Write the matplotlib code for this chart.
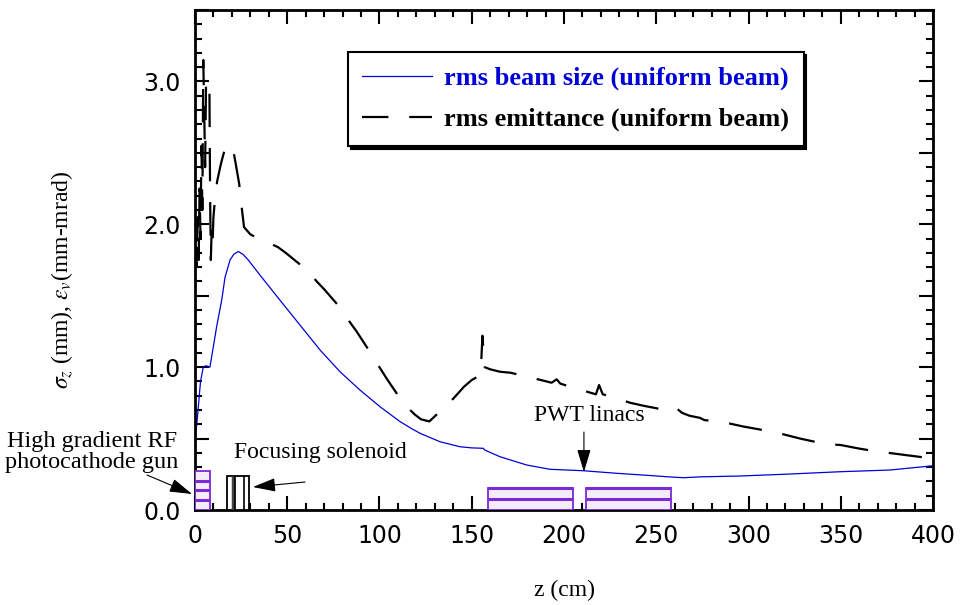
import numpy as np
import matplotlib
matplotlib.use("Agg")
import matplotlib.pyplot as plt
from matplotlib.ticker import MultipleLocator, FuncFormatter
from matplotlib.patches import Rectangle

# rms beam size (uniform beam)
z_size = [0, 1, 2, 3, 4.5, 6, 8.1, 9.9, 11.7, 14.5, 16.3, 19, 21, 23.5, 26, 28.9, 35.2,
          46, 56.9, 67.8, 78.6, 89.4, 100.3, 111, 117.4, 122, 132.8, 143.6, 150, 156.3,
          157, 165.3, 179.8, 192.4, 210.5, 228.6, 245, 255.7, 264.7, 273.7, 295.4, 322.5,
          349.6, 376.7, 394.7, 400]
beam_size = [0.52, 0.6, 0.75, 0.9, 1.0, 1.01, 1.0, 1.14, 1.28, 1.47, 1.63, 1.75, 1.79, 1.81,
             1.79, 1.75, 1.645, 1.47, 1.295, 1.12, 0.968, 0.84, 0.723, 0.62, 0.57, 0.537,
             0.478, 0.443, 0.435, 0.432, 0.42, 0.373, 0.315, 0.285, 0.275, 0.257, 0.243,
             0.233, 0.226, 0.232, 0.238, 0.252, 0.268, 0.28, 0.303, 0.31]

# rms emittance (uniform beam)
z_emit = [0.5, 1.0, 1.5, 2.0, 2.5, 3.0, 3.5, 4.0, 4.5, 5.0, 5.5, 6.0, 7.0, 7.8, 8.2, 8.6,
          9.0, 9.5, 10, 11, 12, 13, 14, 15, 16.5, 18, 19.5, 21, 22, 24, 25.3, 26.6, 30,
          34.3, 40, 45, 49.2, 57.3, 62, 66, 69.9, 77.1, 82, 87.6, 93.9, 99, 103.9, 110.7,
          115, 119, 122.5, 127, 133.2, 140, 145.8, 150, 154.8, 155.8, 157, 160, 165.3, 171,
          178, 184.2, 189, 193.3, 196, 198, 206, 212, 217.3, 219, 221, 225.8, 230, 235.8,
          243, 250.2, 254, 258, 261, 264, 268, 273.7, 276, 282, 287.8, 297, 307.7, 313,
          318.9, 328, 338.4, 344, 350, 360, 370.4, 376, 382, 388, 394.7, 400]
emittance = [1.85, 1.70, 2.05, 1.75, 2.25, 1.90, 2.55, 2.10, 3.15, 2.80, 2.40, 3.0, 3.0,
             3.0, 2.2, 1.75, 1.95, 1.85, 2.05, 2.2, 2.3, 2.36, 2.42, 2.47, 2.54, 2.56, 2.55,
             2.50, 2.43, 2.28, 2.12, 1.98, 1.93, 1.90, 1.87, 1.84, 1.80, 1.715, 1.66, 1.60,
             1.547, 1.44, 1.35, 1.25, 1.125, 1.02, 0.92, 0.79, 0.72, 0.67, 0.635, 0.62,
             0.695, 0.78, 0.863, 0.91, 0.945, 1.22, 1.0, 0.985, 0.968, 0.961, 0.94, 0.92,
             0.905, 0.891, 0.915, 0.885, 0.852, 0.83, 0.81, 0.875, 0.81, 0.793, 0.775,
             0.751, 0.73, 0.712, 0.70, 0.69, 0.712, 0.68, 0.66, 0.645, 0.63, 0.62, 0.611,
             0.585, 0.56, 0.545, 0.53, 0.50, 0.471, 0.46, 0.455, 0.43, 0.408, 0.40, 0.39,
             0.38, 0.369, 0.36]

# beamline elements: (start z, end z, drawn height)
gun = (0, 8, 0.275)
solenoid = (17.2, 29.5, 0.24)
linacs = [(159, 205, 0.152), (212, 258, 0.152)]

plt.rcParams['font.family'] = ['Liberation Serif', 'DejaVu Serif']
plt.rcParams['mathtext.fontset'] = 'stix'
plt.rcParams['lines.scale_dashes'] = False

fig = plt.figure(figsize=(9.6, 6.05), dpi=100)
ax = fig.add_axes([0.2031, 0.157, 0.7688, 0.8264])

blue = '#0000d8'
purple = '#7a2ad6'
l1, = ax.plot(z_size, beam_size, color=blue, lw=0.9, label='rms beam size (uniform beam)')
l2, = ax.plot(z_emit, emittance, color='black', lw=1.6, linestyle=(5, (24, 15)),
              label='rms emittance (uniform beam)')

# gun: striped purple box
g0, g1, gh = gun
ax.add_patch(Rectangle((g0, 0), g1 - g0, gh, fc='#f3ecfb', ec=purple, lw=1.3, zorder=3))
for k in range(1, 4):
    ax.hlines(gh * k / 4, g0, g1, color=purple, lw=2.2, zorder=4)

# solenoid: black box with vertical lines
s0, s1, sh = solenoid
ax.add_patch(Rectangle((s0, 0), s1 - s0, sh, fc='white', ec='black', lw=1.3, zorder=3))
for f, w, c in [(0.27, 2.5, '#444444'), (0.38, 1.2, 'black'), (0.78, 1.2, 'black')]:
    ax.vlines(s0 + f * (s1 - s0), 0, sh, color=c, lw=w, zorder=4)

# PWT linacs
for a, b, h in linacs:
    ax.add_patch(Rectangle((a, 0), b - a, h, fc='#f3ecfb', ec=purple, lw=1.3, zorder=3))
    ax.hlines([h / 2, h], a, b, color=purple, lw=2.2, zorder=4)

ax.set_xlim(0, 400)
ax.set_ylim(0, 3.5)
ax.xaxis.set_major_locator(MultipleLocator(50))
ax.xaxis.set_minor_locator(MultipleLocator(10))
ax.yaxis.set_major_locator(MultipleLocator(0.5))
ax.yaxis.set_minor_locator(MultipleLocator(0.1))
ax.yaxis.set_major_formatter(FuncFormatter(lambda v, p: f"{v:.1f}" if abs(v - round(v)) < 1e-6 else ""))
ax.tick_params(which='both', direction='in', top=True, right=True, width=1.5,
               labelsize=17, pad=10)
ax.tick_params(which='major', length=10)
ax.tick_params(which='minor', length=5)
for lab in ax.get_xticklabels() + ax.get_yticklabels():
    lab.set_fontfamily('DejaVu Sans')
for s in ax.spines.values():
    s.set_linewidth(2)

ax.set_xlabel('z (cm)', fontsize=17)
ax.xaxis.set_label_coords(0.5, -0.14)
ax.set_ylabel(r'$\sigma_z$ (mm), $\varepsilon_v$(mm-mrad)', fontsize=17)
ax.yaxis.set_label_coords(-0.163, 0.46)

leg = ax.legend(handles=[l1, l2], loc='upper left', bbox_to_anchor=(0.207, 0.916),
                borderaxespad=0, fancybox=False, framealpha=1, edgecolor='black',
                shadow={'color': 'black', 'alpha': 1}, handlelength=2.65,
                handletextpad=0.45, borderpad=0.55, labelspacing=0.65,
                labelcolor='linecolor', prop={'weight': 'bold', 'size': 19})
leg.get_frame().set_linewidth(1.5)

arrow = dict(arrowstyle='-|>,head_length=1.0,head_width=0.3', color='black', lw=0.8,
             shrinkA=0, shrinkB=0, mutation_scale=14)
ax.text(-55.8, 0.406, 'High gradient RF\nphotocathode gun', ha='center', va='center',
        fontsize=17.5, linespacing=0.95, clip_on=False)
ax.annotate('', xy=(-1.6, 0.112), xytext=(-26, 0.245), arrowprops=arrow, annotation_clip=False)
ax.text(67.8, 0.40, 'Focusing solenoid', ha='center', va='center', fontsize=17)
ax.annotate('', xy=(31.4, 0.161), xytext=(59.6, 0.196), arrowprops=arrow)
ax.text(213.6, 0.665, 'PWT linacs', ha='center', va='center', fontsize=17)
ax.annotate('', xy=(210.8, 0.266), xytext=(210.8, 0.546), arrowprops=arrow)

fig.savefig('out.png', dpi=100)
